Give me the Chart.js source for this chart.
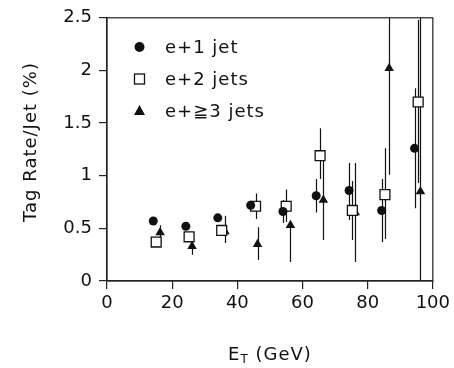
<!DOCTYPE html>
<html>
<head>
<meta charset="utf-8">
<script src="https://cdn.jsdelivr.net/npm/chart.js@4.4.1/dist/chart.umd.min.js"></script>
<style>
html,body{margin:0;padding:0;background:#fff}
#wrap{width:454px;height:368px}
</style>
</head>
<body>
<div id="wrap"><canvas id="c" width="454" height="368"></canvas></div>
<script>
// axis ticks
const xTicks=[0,20,40,60,80,100];
const yTicks=[0,0.5,1,1.5,2,2.5];
const seriesNames=['e+1 jet','e+2 jets','e+\u22673 jets'];

// e+1 jet (filled circles)
const x1=[14.2,24.2,34.0,44.1,54.0,64.2,74.3,84.3,94.4];
const y1=[0.57,0.52,0.60,0.72,0.66,0.81,0.86,0.67,1.26];
const lo1=[0,0,0,0.04,0.11,0.16,0.28,0.30,0.57];
const hi1=[0,0,0,0.04,0.11,0.16,0.26,0.30,0.57];

// e+2 jets (open squares)
const x2=[15.1,25.2,35.2,45.6,55.0,65.4,75.3,85.3,95.5];
const y2=[0.37,0.42,0.48,0.71,0.71,1.19,0.67,0.82,1.70];
const lo2=[0.03,0.04,0.05,0.12,0.15,0.22,0.28,0.42,0.77];
const hi2=[0.03,0.04,0.05,0.12,0.16,0.26,0.28,0.44,0.78];

// e+>=3 jets (filled triangles)
const x3=[16.3,26.1,36.2,46.2,56.3,66.4,76.2,86.6,96.2];
const y3=[0.46,0.33,0.47,0.35,0.53,0.77,0.65,2.02,0.85];
const lo3=[0.10,0.08,0.11,0.15,0.35,0.38,0.47,1.01,0.85];
const hi3=[0.07,0.03,0.15,0.16,0.03,0.37,0.47,1.00,1.70];

const pts=(xs,ys,lo,hi)=>xs.map((x,i)=>({x:x,y:ys[i],lo:ys[i]-lo[i],hi:ys[i]+hi[i]}));
const FONT='"DejaVu Sans", sans-serif';

const errorBars={
  id:'errorBars',
  beforeDatasetsDraw(chart){
    const {ctx,chartArea:a,scales:{x,y}}=chart;
    ctx.save();
    ctx.beginPath();ctx.rect(a.left,a.top,a.right-a.left,a.bottom-a.top);ctx.clip();
    ctx.strokeStyle='#111';ctx.lineWidth=1.2;
    chart.data.datasets.forEach(ds=>{
      ds.data.forEach(p=>{
        if(p.hi-p.lo<=0) return;
        const px=Math.round(x.getPixelForValue(p.x))+0.5;
        ctx.beginPath();
        ctx.moveTo(px,y.getPixelForValue(p.lo));
        ctx.lineTo(px,y.getPixelForValue(p.hi));
        ctx.stroke();
      });
    });
    ctx.restore();
  }
};

const frameAndText={
  id:'frameAndText',
  afterDraw(chart){
    const {ctx,chartArea:a}=chart;
    ctx.save();
    ctx.strokeStyle='#222';ctx.lineWidth=1.2;
    ctx.strokeRect(a.left,a.top,a.right-a.left,a.bottom-a.top);

    // legend inside the plot
    ctx.fillStyle='#111';
    ctx.font='18px '+FONT;
    ctx.letterSpacing='1px';
    ctx.textBaseline='middle';ctx.textAlign='left';
    const rows=[47,79,111], mx=139.5, tx=165;
    chart.data.datasets.forEach((ds,i)=>{
      const cy=rows[i];
      ctx.lineWidth=1.3;ctx.strokeStyle='#111';
      if(ds.pointStyle==='circle'){
        ctx.beginPath();ctx.arc(mx,cy,5,0,Math.PI*2);ctx.fillStyle='#111';ctx.fill();
      }else if(ds.pointStyle==='rect'){
        ctx.fillStyle='#fff';ctx.fillRect(mx-5,cy-5,10,10);ctx.strokeRect(mx-5,cy-5,10,10);
      }else{
        ctx.beginPath();ctx.moveTo(mx,cy-6);ctx.lineTo(mx+5.5,cy+4);ctx.lineTo(mx-5.5,cy+4);ctx.closePath();
        ctx.fillStyle='#111';ctx.fill();
      }
      ctx.fillStyle='#111';
      ctx.fillText(ds.label,tx,cy+1);
    });

    // y title
    ctx.save();
    ctx.translate(35.5,142);ctx.rotate(-Math.PI/2);
    ctx.textAlign='center';ctx.textBaseline='alphabetic';
    ctx.fillText('Tag Rate/Jet (%)',0,0);
    ctx.restore();

    // x title with subscript
    ctx.textBaseline='alphabetic';ctx.textAlign='left';
    const big='18px '+FONT, small='12px '+FONT;
    ctx.font=big;const wE=ctx.measureText('E').width;const wR=ctx.measureText(' (GeV)').width;
    ctx.font=small;const wT=ctx.measureText('T').width;
    let sx=(a.left+a.right)/2-(wE+wT+wR)/2;
    ctx.font=big;ctx.fillText('E',sx,360);sx+=wE;
    ctx.font=small;ctx.fillText('T',sx,363);sx+=wT;
    ctx.font=big;ctx.fillText(' (GeV)',sx,360);
    ctx.restore();
  }
};

const axisCommon={
  grid:{drawOnChartArea:false,drawTicks:true,tickLength:8,color:'#222',lineWidth:1.2},
  border:{color:'#222',width:1.2},
  ticks:{color:'#111',font:{family:FONT,size:18},maxRotation:0,autoSkip:false,callback:v=>String(v)}
};

new Chart(document.getElementById('c'),{
  type:'scatter',
  data:{datasets:[
    {label:seriesNames[0],data:pts(x1,y1,lo1,hi1),pointStyle:'circle',pointRadius:4.5,pointHoverRadius:4.5,
     backgroundColor:'#111',borderColor:'#111',borderWidth:0},
    {label:seriesNames[1],data:pts(x2,y2,lo2,hi2),pointStyle:'rect',pointRadius:7,pointHoverRadius:7,
     backgroundColor:'#fff',borderColor:'#111',borderWidth:1.3},
    {label:seriesNames[2],data:pts(x3,y3,lo3,hi3),pointStyle:'triangle',pointRadius:5.5,pointHoverRadius:5.5,
     backgroundColor:'#111',borderColor:'#111',borderWidth:0}
  ]},
  options:{
    responsive:false,animation:false,devicePixelRatio:1,
    layout:{padding:{top:15,right:20,left:0,bottom:0}},
    plugins:{legend:{display:false},tooltip:{enabled:false}},
    scales:{
      x:{type:'linear',min:0,max:100,...axisCommon,
         ticks:{...axisCommon.ticks,padding:4},
         afterBuildTicks:s=>{s.ticks=xTicks.map(v=>({value:v}));},
         afterFit:s=>{s.height=87;}},
      y:{type:'linear',min:0,max:2.5,...axisCommon,
         ticks:{...axisCommon.ticks,padding:7},
         afterBuildTicks:s=>{s.ticks=yTicks.map(v=>({value:v}));},
         afterFit:s=>{s.width=107;}}
    }
  },
  plugins:[errorBars,frameAndText]
});
</script>
</body>
</html>
